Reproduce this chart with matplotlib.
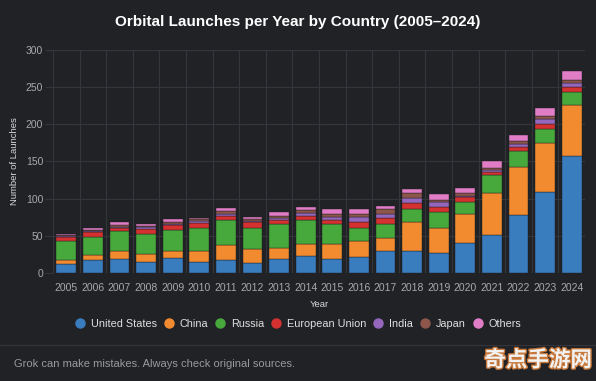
import matplotlib
matplotlib.use("Agg")
import matplotlib.pyplot as plt
import numpy as np
from matplotlib.lines import Line2D
import matplotlib.patheffects as pe

years = [str(y) for y in range(2005, 2025)]
united_states = [12, 18, 19, 15, 20, 15, 18, 13, 19, 23, 19, 22, 29, 30, 27, 40, 51, 78, 109, 158]
china =         [5, 6, 10, 11, 9, 15, 19, 19, 15, 16, 20, 21, 18, 39, 34, 39, 56, 64, 66, 68]
russia =        [26, 25, 27, 27, 29, 31, 34, 29, 32, 32, 27, 17, 19, 17, 21, 17, 25, 22, 19, 17]
european_union =[6, 6, 5, 6, 6, 6, 6, 7, 5, 6, 5, 9, 8, 8, 7, 6, 4, 5, 6, 7]
india =         [1, 1, 1, 3, 2, 3, 3, 2, 3, 4, 5, 7, 5, 7, 6, 2, 2, 5, 7, 5]
japan =         [1, 2, 2, 1, 3, 2, 3, 2, 3, 4, 4, 4, 7, 6, 3, 4, 3, 3, 4, 5]
others =        [2, 2, 5, 3, 4, 2, 4, 3, 5, 4, 6, 6, 4, 6, 8, 6, 9, 9, 11, 12]

series_names = ["United States", "China", "Russia", "European Union", "India", "Japan", "Others"]
series = [united_states, china, russia, european_union, india, japan, others]
colors = ["#3a7dbf", "#f28b30", "#47a93c", "#d63131", "#9467bd", "#8c564b", "#e17dc6"]

BG = "#212226"
GRID = "#35363b"
TICK = "#a9a9ad"
FONT = "Liberation Sans"

fig = plt.figure(figsize=(5.96, 3.81), dpi=100)
fig.patch.set_facecolor(BG)
ax = fig.add_axes([53/596, 1-273/381, (585-53)/596, (273-50)/381])
ax.set_facecolor(BG)

x = np.arange(len(years))
bottom = np.zeros(len(years))
for name, vals, c in zip(series_names, series, colors):
    v = np.array(vals, dtype=float)
    ax.bar(x, v, bottom=bottom, width=0.74, color=c, edgecolor="#1d1e21", linewidth=0.3, label=name, zorder=3)
    bottom += v

ax.set_xlim(-0.5, len(years)-0.5)
ax.set_ylim(0, 300)
ax.set_yticks(np.arange(0, 301, 50))
ax.set_xticks(x)
ax.set_xticklabels(years)
ax.set_xticks(np.arange(-0.5, len(years), 1), minor=True)
ax.grid(True, which="major", axis="y", color=GRID, linewidth=0.8, zorder=0)
ax.grid(True, which="minor", axis="x", color=GRID, linewidth=0.8, zorder=0)
ax.tick_params(axis="y", which="major", colors=TICK, labelsize=7.5, length=6, color=GRID, pad=1)
ax.tick_params(axis="x", which="major", colors=TICK, labelsize=7.5, length=0, pad=7)
ax.tick_params(axis="x", which="minor", length=0)
for lab in ax.get_xticklabels() + ax.get_yticklabels():
    lab.set_fontfamily(FONT)
for s in ax.spines.values():
    s.set_visible(False)

ax.set_ylabel("Number of Launches", color="#d8d8d8", fontsize=6.8, family=FONT, labelpad=5)
ax.set_xlabel("Year", color="#d8d8d8", fontsize=6.8, family=FONT, labelpad=5)

fig.text(0.5, 1-22/381, "Orbital Launches per Year by Country (2005\u20132024)", ha="center", va="center",
         color="white", fontsize=11, fontweight="bold", family=FONT)

handles = [Line2D([0], [0], marker="o", linestyle="", markerfacecolor=c, markeredgecolor=c, markersize=6.5)
           for c in colors]
leg = fig.legend(handles, series_names, loc="center", bbox_to_anchor=(0.5, 1-324/381), ncol=7,
                 frameon=False, handlelength=1.0, handletextpad=0.5, columnspacing=0.6,
                 prop={"family": FONT, "size": 7.8})
for t in leg.get_texts():
    t.set_color("#e0e0e0")

fig.add_artist(Line2D([0, 1], [1-345/381, 1-345/381], transform=fig.transFigure, color="#34353a", linewidth=0.8))
fig.text(14/596, 1-364/381, "Grok can make mistakes. Always check original sources.", ha="left", va="center",
         color="#9a9a9e", fontsize=8, family=FONT)

fig.text(0.993, 1-360/381, "奇点手游网", ha="right", va="center", color="#f2f2f2", fontsize=15.5,
         family=["Noto Sans CJK SC", "DejaVu Sans"], fontweight="bold",
         path_effects=[pe.withStroke(linewidth=2, foreground="#c8783a")])

fig.savefig("out.png", dpi=100, facecolor=BG)
